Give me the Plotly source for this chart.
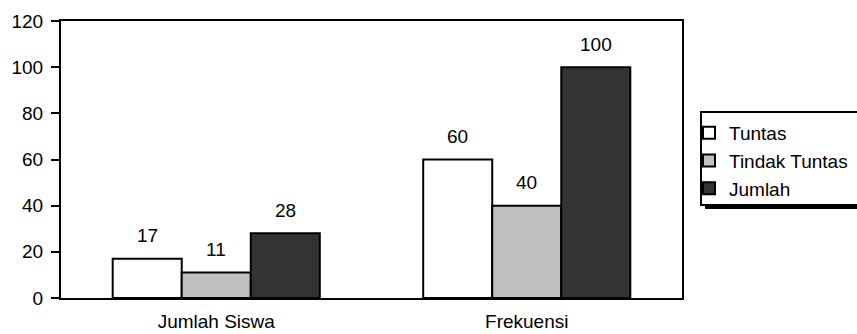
import plotly.graph_objects as go

categories = ["Jumlah Siswa", "Frekuensi"]
series_names = ["Tuntas", "Tindak Tuntas", "Jumlah"]
tuntas = [17, 60]
tidak_tuntas = [11, 40]
jumlah = [28, 100]
y_ticks = [0, 20, 40, 60, 80, 100, 120]

values = [tuntas, tidak_tuntas, jumlah]
colors = ["#ffffff", "#c0c0c0", "#333333"]
FONT = "Arial, 'Liberation Sans', sans-serif"
FS = 19

W, H = 857, 334
L, R, T, B = 61, 175, 21, 36
PW, PH = W - L - R, H - T - B


def px(p):
    return (p - L) / PW


def py(p):
    return (H - B - p) / PH


fig = go.Figure()
for i, (name, vals, col) in enumerate(zip(series_names, values, colors)):
    fig.add_trace(go.Bar(
        x=categories, y=vals, name=name,
        marker=dict(color=col, line=dict(color="black", width=2)),
    ))

# value labels above each bar
offsets = [-1, 0, 1]
annotations = []
for i, vals in enumerate(values):
    for j, v in enumerate(vals):
        annotations.append(dict(
            x=j, y=v, xref="x", yref="y", text=str(v), showarrow=False,
            xshift=offsets[i] * 69.2, yshift=23, yanchor="middle",
            font=dict(family=FONT, size=FS, color="black"),
        ))

# legend frame with drop shadow
shapes = [
    dict(type="rect", xref="paper", yref="paper", layer="above",
         x0=px(705), x1=px(870), y0=py(209), y1=py(116),
         fillcolor="black", line=dict(width=0)),
    dict(type="rect", xref="paper", yref="paper", layer="above",
         x0=px(701), x1=px(866), y0=py(205), y1=py(112),
         fillcolor="white", line=dict(color="black", width=2)),
]

fig.update_layout(
    width=W, height=H,
    margin=dict(l=L, r=R, t=T, b=B, pad=0, autoexpand=False),
    paper_bgcolor="white", plot_bgcolor="white",
    barmode="group", bargap=0.333, bargroupgap=0,
    font=dict(family=FONT, size=FS, color="black"),
    showlegend=True,
    legend=dict(x=px(689), y=py(114), xanchor="left", yanchor="top",
                bgcolor="rgba(0,0,0,0)", borderwidth=0,
                font=dict(family=FONT, size=FS, color="black"),
                tracegroupgap=0, itemwidth=30),
    annotations=annotations,
    shapes=shapes,
)
fig.update_xaxes(
    type="category", showline=True, linecolor="black", linewidth=2,
    mirror=True, ticks="", showgrid=False, ticklabelstandoff=5,
    automargin=False,
    tickfont=dict(family=FONT, size=FS, color="black"),
)
fig.update_yaxes(
    range=[0, 120], tickvals=y_ticks, showline=True, linecolor="black",
    linewidth=2, mirror=True, ticks="outside", ticklen=8, tickwidth=2,
    tickcolor="black", showgrid=False, zeroline=False, automargin=False,
    ticklabelstandoff=4,
    tickfont=dict(family=FONT, size=FS, color="black"),
)

fig.write_html("out.html")
